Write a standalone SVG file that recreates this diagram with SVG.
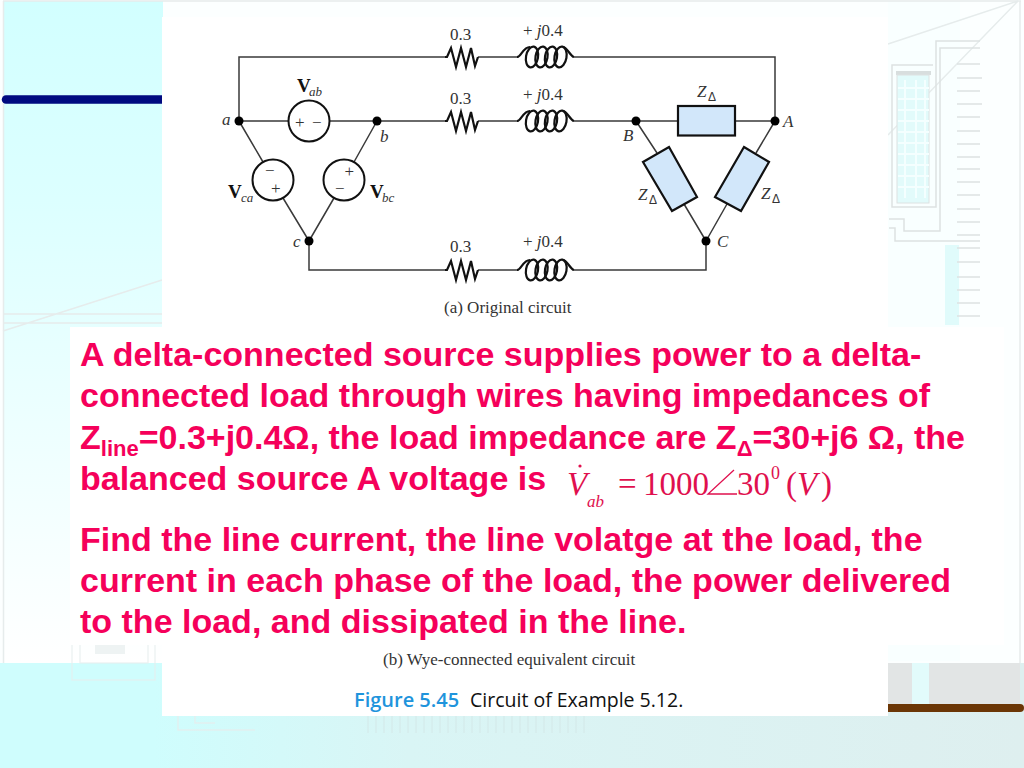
<svg xmlns="http://www.w3.org/2000/svg" xmlns:xlink="http://www.w3.org/1999/xlink" width="1024" height="768" viewBox="0 0 1024 768">
<style>
.w{fill:none;stroke:#3a3a3a;stroke-width:1.500}
.w2{fill:none;stroke:#111;stroke-width:2.200}
.src{fill:#fff;stroke:#111;stroke-width:2}
.z{fill:#d2e7fa;stroke:#111;stroke-width:2.200}
.dot{fill:#000}
.t{font-family:"Liberation Serif",serif;fill:#333;font-size:17px}
.i{font-style:italic}
.b{font-weight:bold;fill:#111;font-size:19px}
.s{font-style:italic;font-size:13px}
.m{font-family:"Liberation Sans",sans-serif;font-weight:bold;font-size:34px;fill:#f5005a}
.eq{font-family:"Liberation Serif",serif;fill:#e0104e;font-size:33px}
.d{fill:none;stroke:#e6ecec;stroke-width:1.500}
.d2{fill:none;stroke:#dde2e2;stroke-width:1.500}
</style>
<defs>
<linearGradient id="lg" x1="0" y1="0" x2="0" y2="1"><stop offset="0" stop-color="#d2ffff"/><stop offset="0.3" stop-color="#dcffff"/><stop offset="1" stop-color="#ffffff"/></linearGradient>
<linearGradient id="bg" x1="0" y1="0" x2="1" y2="0"><stop offset="0" stop-color="#cffdfd"/><stop offset="0.15" stop-color="#cffdfd"/><stop offset="0.4" stop-color="#d9f5f5"/><stop offset="1" stop-color="#deefef"/></linearGradient>
<path id="res" class="w2" d="M0 0H2L6 -9L11 10L16 -9L21 10L26 -9L30 9L33 0"/>
<g id="coil" class="w2">
<path d="M0 0C4 0 6 -10 13 -10M46 -10C50 -10 53 -1 57 0"/>
<ellipse cx="15" cy="0" rx="6" ry="10.500" transform="rotate(10 15 0)"/>
<ellipse cx="24.500" cy="0" rx="6" ry="10.500" transform="rotate(10 24.500 0)"/>
<ellipse cx="34" cy="0" rx="6" ry="10.500" transform="rotate(10 34 0)"/>
<ellipse cx="43.500" cy="0" rx="6" ry="10.500" transform="rotate(10 43.500 0)"/>
</g>
<g id="zd"><text class="t i" x="0" y="0">Z</text><text x="11" y="4" font-size="12" fill="#333" font-family="Liberation Sans,sans-serif">Δ</text></g>
</defs>
<g id="background">
<rect width="1024" height="768" fill="#fcffff"/>
<rect x="3" y="1" width="160" height="662" fill="url(#lg)"/>
<rect x="888" y="1" width="72" height="660" fill="#f9ffff"/>
<rect x="945" y="245" width="14" height="80" fill="#e0fbfb"/>
<rect x="0" y="663" width="1024" height="105" fill="url(#bg)"/>
<rect x="888" y="663" width="132" height="42" fill="#e2e5e5"/>
<rect x="912" y="663" width="17" height="42" fill="#e2fbfb"/>
<path class="d" d="M3 1H1021M3.500 1V663M1020 1V663"/>
<path class="d" d="M3 331L162 280M3 314H162M3 323H162M888 44L1018 1M888 135L1018 1"/>
<path class="d2" d="M933 65H892V207H936V41H980M889 219H904V231H940V48H980M889 228H895V241H980"/>
<rect x="896" y="71" width="35" height="4" fill="#d8dede"/>
<rect x="897" y="75" width="32" height="128" fill="#e2fbfb" stroke="#dde2e2"/>
<path d="M905 80V198M916 80V198M925 80V198M898 88H929M898 99H929M898 110H929M898 121H929M898 132H929M898 143H929M898 154H929M898 165H929M898 176H929M898 187H929" stroke="#f4ffff" stroke-width="2" fill="none"/>
<path class="d2" d="M957 64H980M957 78H982M957 91H980M957 104H982M957 117H980M957 131H980M957 144H980M957 157H980M957 169H980M957 182H980M957 195H980M957 209H980M957 222H980M957 235H980M957 248H980M957 262H980M957 277H980M957 290H980M957 303H980M957 316H980"/>
<path class="d" d="M72 645V680H155V645M80 645V663H148V645" opacity="0.7"/>
<rect x="95" y="645" width="30" height="9" fill="#eef3f3"/>
<path class="d" d="M178 716V730H255M195 716V723H215" opacity="0.8"/>
<path d="M368 716V733M376 716V733M384 716V733M392 716V733M400 716V733M408 716V733M416 716V733M424 716V733M432 716V733M440 716V733M448 716V733M456 716V733M464 716V733M472 716V733M480 716V733M488 716V733M496 716V733M504 716V733M512 716V733M520 716V733M528 716V733M536 716V733M544 716V733M552 716V733M560 716V733M568 716V733M576 716V733M584 716V733" stroke="#d3e8e8" fill="none"/>
<path d="M6 99.500H162" stroke="#000a80" stroke-width="8.500" stroke-linecap="round" fill="none"/>
<path d="M888 708H1020" stroke="#6b3606" stroke-width="8" stroke-linecap="round" fill="none"/>
<rect x="162" y="17" width="726" height="699" fill="#fff"/>
<rect x="70" y="327" width="934" height="318" fill="#fff"/>
</g>
<g id="connectors">
<path class="w" d="M445 57H239V121M478 57H517M574 57H775V121M239 121H289M329 121H445M478 121H517M574 121H678M735 121H775M377 121L354 162M334 198L309 241M239 121L263 162M283 198L309 241M309 241V270H445M478 270H517M574 270H706V241M636 121L657 153M684 204L706 241M775 121L756 153M727 204L706 241"/>
</g>
<g id="res1"><use xlink:href="#res" href="#res" x="445" y="57"/><text class="t" x="450" y="40">0.3</text></g>
<g id="res2"><use xlink:href="#res" href="#res" x="445" y="121"/><text class="t" x="450" y="104">0.3</text></g>
<g id="res3"><use xlink:href="#res" href="#res" x="445" y="270"/><text class="t" x="450" y="252">0.3</text></g>
<g id="ind1"><use xlink:href="#coil" href="#coil" x="517" y="57"/><text class="t" x="523" y="36">+ <tspan class="i">j</tspan>0.4</text></g>
<g id="ind2"><use xlink:href="#coil" href="#coil" x="517" y="121"/><text class="t" x="523" y="100">+ <tspan class="i">j</tspan>0.4</text></g>
<g id="ind3"><use xlink:href="#coil" href="#coil" x="517" y="270"/><text class="t" x="523" y="247">+ <tspan class="i">j</tspan>0.4</text></g>
<g id="vab"><circle class="src" cx="309" cy="121" r="20.500"/><text class="t" x="295" y="128">+</text><text class="t" x="312" y="128">−</text><text class="t b" x="297" y="92">V</text><text class="t s" x="309" y="96">ab</text></g>
<g id="vca"><circle class="src" cx="273" cy="180" r="20.500"/><text class="t" x="265" y="176">−</text><text class="t" x="271" y="194">+</text><text class="t b" x="228" y="198">V</text><text class="t s" x="241" y="202">ca</text></g>
<g id="vbc"><circle class="src" cx="344" cy="180" r="20.500"/><text class="t" x="344.500" y="177">+</text><text class="t" x="335" y="194">−</text><text class="t b" x="370" y="198">V</text><text class="t s" x="382" y="202">bc</text></g>
<g id="node-a"><circle class="dot" cx="239" cy="121" r="4.500"/><text class="t i" x="222" y="125">a</text></g>
<g id="node-b"><circle class="dot" cx="377" cy="121" r="4.500"/><text class="t i" x="380" y="142">b</text></g>
<g id="node-c"><circle class="dot" cx="309" cy="241" r="4.500"/><text class="t i" x="293" y="247">c</text></g>
<g id="node-A"><circle class="dot" cx="775" cy="121" r="4.500"/><text class="t i" x="783" y="127">A</text></g>
<g id="node-B"><circle class="dot" cx="636" cy="121" r="4.500"/><text class="t i" x="623" y="141">B</text></g>
<g id="node-C"><circle class="dot" cx="706" cy="241" r="4.500"/><text class="t i" x="717" y="247">C</text></g>
<g id="zab"><rect class="z" x="678" y="106" width="57" height="29.500"/><use xlink:href="#zd" href="#zd" x="697" y="97"/></g>
<g id="zbc"><polygon class="z" points="643,162 669,147 697,197 672,211"/><use xlink:href="#zd" href="#zd" x="638" y="200"/></g>
<g id="zca"><polygon class="z" points="744,147 769,162 741,211 715,197"/><use xlink:href="#zd" href="#zd" x="761" y="199"/></g>
<g id="captions">
<text class="t" x="444" y="313">(a) Original circuit</text>
<text class="t" x="383" y="665">(b) Wye-connected equivalent circuit</text>
<text x="354" y="707" font-size="20" font-family="Open Sans,sans-serif" font-weight="600" fill="#1f94dc">Figure 5.45</text>
<text x="470" y="707" font-size="19.500" font-family="Open Sans,sans-serif" fill="#111">Circuit of Example 5.12.</text>
</g>
<g id="problem">
<text class="m" x="80" y="366">A delta-connected source supplies power to a delta-</text>
<text class="m" x="80" y="407">connected load through wires having impedances of</text>
<text class="m" x="80" y="449">Z<tspan font-size="22" dy="7">line</tspan><tspan dy="-7">=0.3+j0.4Ω, the load impedance are Z</tspan><tspan font-size="22" dy="7">Δ</tspan><tspan dy="-7">=30+j6 Ω, the</tspan></text>
<text class="m" x="80" y="490">balanced source A voltage is</text>
<text class="m" x="80" y="551">Find the line current, the line volatge at the load, the</text>
<text class="m" x="80" y="592">current in each phase of the load, the power delivered</text>
<text class="m" x="80" y="633">to the load, and dissipated in the line.</text>
<circle cx="580" cy="466" r="1.600" fill="#e0104e"/>
<text class="eq" x="567" y="495" font-style="italic">V</text>
<text class="eq" x="587" y="507" style="font-size:17px" font-style="italic">ab</text>
<text class="eq" x="618" y="495">=</text>
<text class="eq" x="643" y="495">1000</text>
<path d="M734 470L708 494H737" fill="none" stroke="#e0104e" stroke-width="1.300"/>
<text class="eq" x="737" y="495">30</text>
<text class="eq" x="771" y="479" style="font-size:18px">0</text>
<text class="eq" x="786" y="495">(</text>
<text class="eq" x="797" y="495" font-style="italic">V</text>
<text class="eq" x="821" y="495">)</text>
</g>
</svg>
